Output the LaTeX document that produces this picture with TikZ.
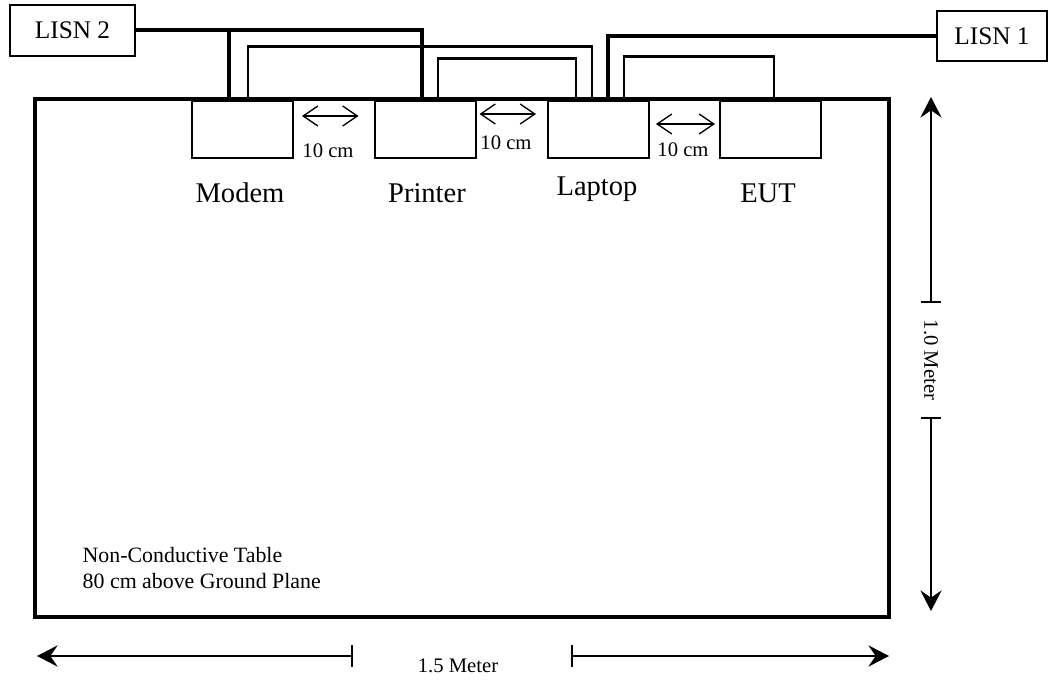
\documentclass[tikz,border=0pt]{standalone}
\usepackage{fontspec}
\setmainfont{Liberation Serif}
\usetikzlibrary{arrows.meta,calc}
\tikzset{
  device/.style={draw,line width=1.5pt,minimum width=75.75pt,minimum height=42.75pt,inner sep=0pt},
  lisn/.style={draw,line width=1.3pt,inner sep=0pt,font=\fontsize{19}{22}\selectfont},
  devlabel/.style={font=\fontsize{21.4}{24}\selectfont},
  gaplabel/.style={font=\fontsize{15.5}{18}\selectfont},
  notelabel/.style={font=\fontsize{16.4}{20}\selectfont,align=left,anchor=west},
  dimlabel/.style={font=\fontsize{15.5}{18}\selectfont},
  cable/.style={line width=3pt},
  signal/.style={line width=1.6pt},
  gap/.style={{Straight Barb[length=11pt,width=15pt]}-{Straight Barb[length=11pt,width=15pt]},line width=1pt},
  dim/.style={-{Stealth[length=15.5pt,width=16pt,inset=5.5pt]},line width=1.1pt},
  tick/.style={line width=1.1pt},
}
\begin{document}
\begin{tikzpicture}[x=0.75pt,y=-0.75pt]
\useasboundingbox (0,0) rectangle (1057,681);
% table
\draw[line width=2.5pt] (35,99) rectangle (889,617);
% devices on the table
\node[device] (modem) at (242.5,130) {};
\node[device] (printer) at (425,130) {};
\node[device] (laptop) at (598.5,130) {};
\node[device] (eut) at (770.5,130) {};
\node[devlabel] (modemtxt) at (240,193) {Modem};
\node[devlabel] (printertxt) at (427,193) {Printer};
\node[devlabel] (laptoptxt) at (597,189) {Laptop};
\node[devlabel] (euttxt) at (768,193) {EUT};
% LISNs
\node[lisn,minimum width=93.75pt,minimum height=38.25pt] (lisn2) at (72.5,30.5) {LISN 2};
\node[lisn,minimum width=82.5pt,minimum height=37.5pt] (lisn1) at (992,36) {LISN 1};
% power cables
\draw[cable] (lisn2.east) -| ($(modem.north)+(-13.5,0)$);
\draw[cable] (lisn2.east) -| ($(printer.north)+(-3.5,0)$);
\draw[cable] (lisn1.west) -| ($(laptop.north)+(9.5,0)$);
% signal cables
\draw[signal] ($(modem.north)+(5.5,0)$) -- ++(0,-54) -| ($(laptop.north)+(-6.5,0)$);
\draw[signal] ($(printer.north)+(13,0)$) -- ++(0,-42) -| ($(laptop.north)+(-22.5,0)$);
\draw[signal] ($(laptop.north)+(25.5,0)$) -- ++(0,-44) -| ($(eut.north)+(3.5,0)$);
% 10 cm spacing
\draw[gap] ($(modem.east)+(8,-14)$) -- ($(printer.west)+(-15,-14)$);
\draw[gap] ($(printer.east)+(3,-16)$) -- ($(laptop.west)+(-11,-16)$);
\draw[gap] ($(laptop.east)+(6,-6)$) -- ($(eut.west)+(-4,-6)$);
\node[gaplabel] (gap1) at (328,151) {10 cm};
\node[gaplabel] (gap2) at (506,143) {10 cm};
\node[gaplabel] (gap3) at (683,150) {10 cm};
% table note
\node[notelabel] (note) at (78,568) {Non-Conductive Table\\80 cm above Ground Plane};
% 1.0 Meter
\coordinate (vtop) at (931,302);
\coordinate (vbot) at (931,418);
\draw[dim] (vtop) -- (931,97);
\draw[dim] (vbot) -- (931,611);
\draw[tick] ($(vtop)+(-10,0)$) -- ($(vtop)+(10,0)$);
\draw[tick] ($(vbot)+(-10,0)$) -- ($(vbot)+(10,0)$);
\node[dimlabel,rotate=-90] (vlen) at (931,360) {1.0 Meter};
% 1.5 Meter
\coordinate (hleft) at (352,656);
\coordinate (hright) at (572,656);
\draw[dim] (hleft) -- (37,656);
\draw[dim] (hright) -- (889,656);
\draw[tick] ($(hleft)+(0,-11)$) -- ($(hleft)+(0,11)$);
\draw[tick] ($(hright)+(0,-11)$) -- ($(hright)+(0,11)$);
\node[dimlabel] (hlen) at (458,666) {1.5 Meter};
\end{tikzpicture}
\end{document}
